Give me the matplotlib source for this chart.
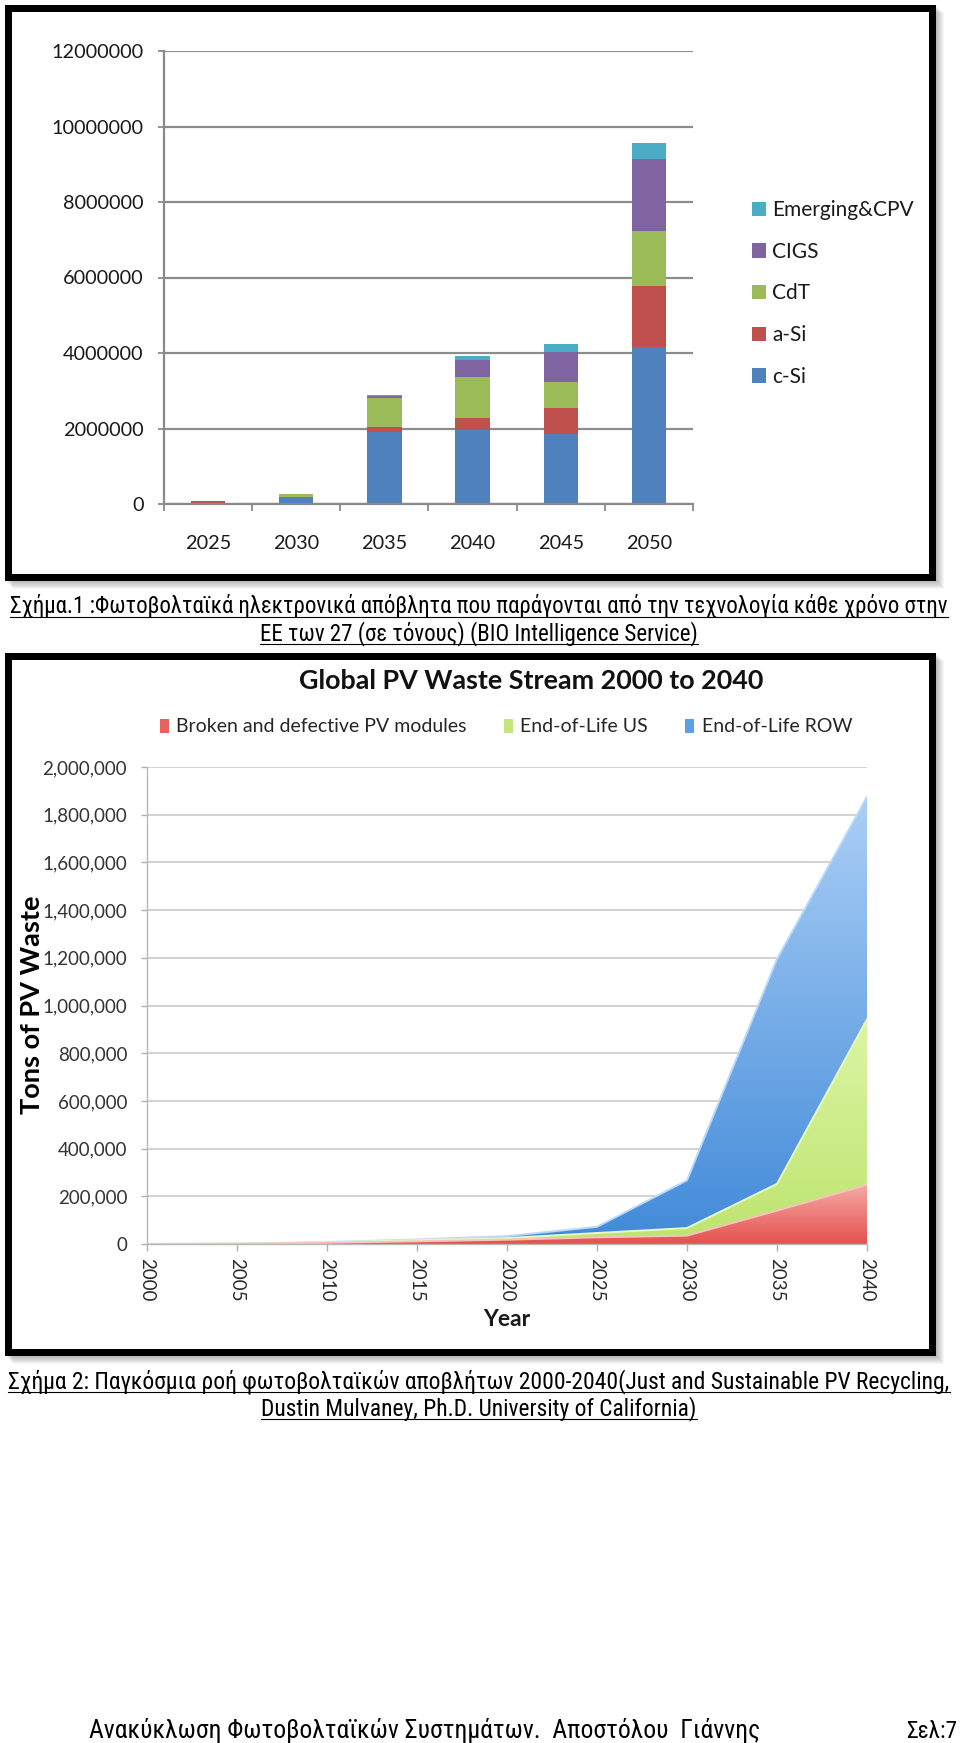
import numpy as np
import matplotlib
matplotlib.use("Agg")
import matplotlib.pyplot as plt
from matplotlib.patches import Rectangle, Patch
from matplotlib.lines import Line2D
from matplotlib.colors import LinearSegmentedColormap
from matplotlib.ticker import FuncFormatter, FixedLocator
from matplotlib import font_manager

W, H = 960, 1743

# ---- chart 1: EU-27 PV waste by technology (tonnes) ----
eu_years = ["2025", "2030", "2035", "2040", "2045", "2050"]
c_si = [0, 180000, 1900000, 1960000, 1860000, 4150000]
a_si = [70000, 0, 130000, 320000, 680000, 1620000]
cdt = [0, 75000, 790000, 1090000, 680000, 1460000]
cigs = [0, 5000, 45000, 440000, 810000, 1910000]
emerging = [0, 0, 10000, 100000, 200000, 420000]
tech_names = ["c-Si", "a-Si", "CdT", "CIGS", "Emerging&CPV"]
tech_colors = ["#4f81bd", "#c0504d", "#9bbb59", "#8064a2", "#4bacc6"]

# ---- chart 2: global PV waste stream (tons) ----
years = [2000, 2005, 2010, 2015, 2020, 2025, 2030, 2035, 2040]
broken = [0, 1000, 5000, 11000, 18000, 28000, 35000, 140000, 248000]
eol_us = [0, 500, 2000, 5000, 7000, 18000, 32000, 112000, 694000]
eol_row = [0, 0, 1000, 3000, 8000, 26000, 200000, 943000, 933000]
waste_names = ["Broken and defective PV modules", "End-of-Life US", "End-of-Life ROW"]


def has_font(name, stretch="normal", must_contain=None):
    try:
        fp = font_manager.FontProperties(family=name, stretch=stretch)
        path = font_manager.findfont(fp, fallback_to_default=False)
        if must_contain and must_contain.lower() not in path.lower():
            return False
        return True
    except Exception:
        return False


CHART_FONT = "Lato" if has_font("Lato") else "DejaVu Sans"

# narrow font for the document captions (Arial Narrow look)
CAP_FONT, CAP_STRETCH = "Liberation Sans", "normal"
for fam, st, tag in [("Liberation Sans Narrow", "normal", None),
                     ("Roboto Condensed", "normal", None),
                     ("DejaVu Sans", "condensed", "condensed"),
                     ("Roboto", "condensed", "condensed")]:
    if has_font(fam, st, tag):
        CAP_FONT, CAP_STRETCH = fam, st
        break

plt.rcParams["font.family"] = [CHART_FONT, "DejaVu Sans"]


def fx(px):
    return px / W


def fy(py):
    return 1 - py / H


fig = plt.figure(figsize=(W / 100, H / 100), dpi=100)
fig.patch.set_facecolor("white")
renderer = fig.canvas.get_renderer()


def frame(x0, y0, x1, y1, t=7):
    # soft shadow to the right / bottom
    for k in range(1, 10):
        fig.add_artist(Rectangle((fx(x0 + k), fy(y1 + k)), (x1 - x0) / W, (y1 - y0) / H,
                                 transform=fig.transFigure, facecolor="#000000",
                                 edgecolor="none", alpha=0.035, zorder=-3))
    fig.add_artist(Rectangle((fx(x0), fy(y1)), (x1 - x0) / W, (y1 - y0) / H,
                             transform=fig.transFigure, facecolor="white",
                             edgecolor="none", zorder=-2))
    fig.add_artist(Rectangle((fx(x0 + t / 2), fy(y1 - t / 2)), (x1 - x0 - t) / W, (y1 - y0 - t) / H,
                             transform=fig.transFigure, facecolor="none",
                             edgecolor="black", lw=t * 0.72, joinstyle="miter", zorder=6))


frame(4, 4, 935, 580)
frame(4, 652, 935, 1355)

# ================= chart 1 =================
ax1 = fig.add_axes([fx(164), fy(504), (693 - 164) / W, (504 - 51) / H])
ax1.set_facecolor("none")
x = np.arange(len(eu_years))
bottom = np.zeros(len(eu_years))
bars = []
for vals, name, col in zip([c_si, a_si, cdt, cigs, emerging], tech_names, tech_colors):
    b = ax1.bar(x, vals, width=0.39, bottom=bottom, color=col, label=name, zorder=2)
    bars.append(b)
    bottom += np.array(vals)

ax1.set_xlim(-0.5, len(eu_years) - 0.5)
ax1.set_ylim(0, 12000000)
ax1.yaxis.set_major_locator(FixedLocator(np.arange(0, 12000001, 2000000)))
ax1.yaxis.set_major_formatter(FuncFormatter(lambda v, p: f"{int(v)}"))
ax1.set_xticks(x)
ax1.set_xticklabels(eu_years)
ax1.set_xticks(np.arange(-0.5, len(eu_years)), minor=True)
ax1.tick_params(axis="x", which="major", length=0, pad=22, labelsize=14.3, labelcolor="#1a1a1a")
ax1.tick_params(axis="x", which="minor", length=5, width=1.3, color="#8a8a8a", direction="out")
ax1.tick_params(axis="y", length=4.3, width=1.3, color="#8a8a8a", pad=10.5, labelsize=14.3,
                labelcolor="#1a1a1a")
ax1.yaxis.grid(True, color="#8c8c8c", lw=1.6)
ax1.set_axisbelow(True)
for s in ["top", "right"]:
    ax1.spines[s].set_visible(False)
for s in ["left", "bottom"]:
    ax1.spines[s].set_color("#8a8a8a")
    ax1.spines[s].set_linewidth(1.6)

ax1.legend(handles=bars[::-1], loc="upper left", bbox_to_anchor=(fx(752), fy(200)),
           bbox_transform=fig.transFigure, frameon=False, fontsize=15,
           handlelength=0.68, handleheight=0.68, handletextpad=0.3,
           labelspacing=1.04, borderpad=0, borderaxespad=0, labelcolor="#1a1a1a")

# ================= chart 2 =================
ax2 = fig.add_axes([fx(147), fy(1244), (867 - 147) / W, (1244 - 767) / H])
ax2.set_facecolor("none")
yr = np.array(years, dtype=float)
l1 = np.array(broken, dtype=float)
l2 = l1 + np.array(eol_us)
l3 = l2 + np.array(eol_row)


def gradient_area(lo, hi, c_bot, c_top, edge, z):
    poly = ax2.fill_between(yr, lo, hi, facecolor="none", edgecolor="none", zorder=z)
    cmap = LinearSegmentedColormap.from_list("g", [c_bot, c_top])
    grad = np.linspace(0, 1, 256).reshape(-1, 1)
    im = ax2.imshow(grad, extent=[yr[0], yr[-1], 0, hi.max()], origin="lower",
                    aspect="auto", cmap=cmap, zorder=z, interpolation="bicubic")
    im.set_clip_path(poly.get_paths()[0], ax2.transData)
    ax2.plot(yr, hi, color=edge, lw=1.4, zorder=z + 0.1, solid_joinstyle="round")


gradient_area(l2, l3, "#418ad9", "#abcff6", "#b8d9f8", 2)
gradient_area(l1, l2, "#bde46e", "#dcf5a6", "#e8f8c4", 2.2)
gradient_area(np.zeros_like(l1), l1, "#e4524f", "#f6aaa5", "#f9c2be", 2.4)

ax2.set_xlim(2000, 2040)
ax2.set_ylim(0, 2000000)
ax2.yaxis.set_major_locator(FixedLocator(np.arange(0, 2000001, 200000)))
ax2.yaxis.set_major_formatter(FuncFormatter(lambda v, p: f"{int(v):,}"))
ax2.xaxis.set_major_locator(FixedLocator(years))
ax2.xaxis.set_major_formatter(FuncFormatter(lambda v, p: f"{int(v)}"))
ax2.tick_params(axis="x", length=5, width=1.0, color="#b0b0b0", pad=5, labelsize=13.5,
                labelcolor="#2a2a2a", labelrotation=-90)
ax2.tick_params(axis="y", length=4.3, width=1.0, color="#b0b0b0", pad=10, labelsize=13.5,
                labelcolor="#333333")
ax2.yaxis.grid(True, color="#d2d2d2", lw=1.4)
ax2.set_axisbelow(True)
for s in ["top", "right"]:
    ax2.spines[s].set_visible(False)
for s in ["left", "bottom"]:
    ax2.spines[s].set_color("#b8b8b8")
    ax2.spines[s].set_linewidth(1.0)

fig.text(fx(32), fy(1005), "Tons of PV Waste", rotation=90, ha="center", va="center",
         fontsize=19.5, fontweight="bold", color="black")
fig.text(fx(507), fy(1320), "Year", ha="center", va="center", fontsize=16.5,
         fontweight="bold", color="#1a1a1a")

waste_handles = [Patch(facecolor="#e8625e", edgecolor="none"),
                 Patch(facecolor="#c3e77a", edgecolor="none"),
                 Patch(facecolor="#5d9fe3", edgecolor="none")]
fig.legend(handles=waste_handles, labels=waste_names, loc="center",
           bbox_to_anchor=(fx(506), fy(727)), ncol=3, frameon=False, fontsize=14,
           handlelength=0.45, handleheight=0.7, handletextpad=0.4, columnspacing=1.9,
           borderpad=0, labelcolor="#262626")


def fit_text(px, py, s, target_w, size0, **kw):
    t = fig.text(fx(px), fy(py), s, fontsize=size0, **kw)
    w = t.get_window_extent(renderer).width
    t.set_fontsize(size0 * target_w / w)
    return t


title = fit_text(531, 681, "Global PV Waste Stream 2000 to 2040", 466, 19.5,
                 ha="center", va="center", fontweight="bold", color="#111111")


# ================= captions / footer =================
def underline(t, base_py, off=4.0):
    bb = t.get_window_extent(renderer)
    fig.add_artist(Line2D([bb.x0 / W, bb.x1 / W], [fy(base_py + off)] * 2,
                          transform=fig.transFigure, color="black", lw=0.8))


cap_kw = dict(family=[CAP_FONT, "DejaVu Sans"], fontstretch=CAP_STRETCH, color="black",
              va="baseline")

c1a = fit_text(479, 613, "Σχήμα.1 :Φωτοβολταϊκά ηλεκτρονικά απόβλητα που παράγονται από την "
               "τεχνολογία κάθε χρόνο στην", 936, 13, ha="center", **cap_kw)
c1b = fig.text(fx(479), fy(640), "ΕΕ των 27 (σε τόνους) (BIO Intelligence Service)",
               fontsize=c1a.get_fontsize(), ha="center", **cap_kw)
underline(c1a, 613)
underline(c1b, 640)

c2a = fit_text(479, 1388, "Σχήμα 2: Παγκόσμια ροή φωτοβολταϊκών αποβλήτων 2000-2040(Just and "
               "Sustainable PV Recycling,", 936, 13, ha="center", **cap_kw)
c2b = fig.text(fx(479), fy(1415), "Dustin Mulvaney, Ph.D. University of California)",
               fontsize=c2a.get_fontsize(), ha="center", **cap_kw)
underline(c2a, 1388)
underline(c2b, 1415)

foot_kw = dict(family=[CAP_FONT, "DejaVu Sans"], fontstretch=CAP_STRETCH, color="black",
               va="baseline")
fit_text(89, 1738, "Ανακύκλωση Φωτοβολταϊκών Συστημάτων.  Αποστόλου  Γιάννης", 670, 16,
         ha="left", **foot_kw)
fit_text(957, 1738, "Σελ:7", 51, 16, ha="right", **foot_kw)

fig.savefig("out.png", dpi=100, facecolor="white")
